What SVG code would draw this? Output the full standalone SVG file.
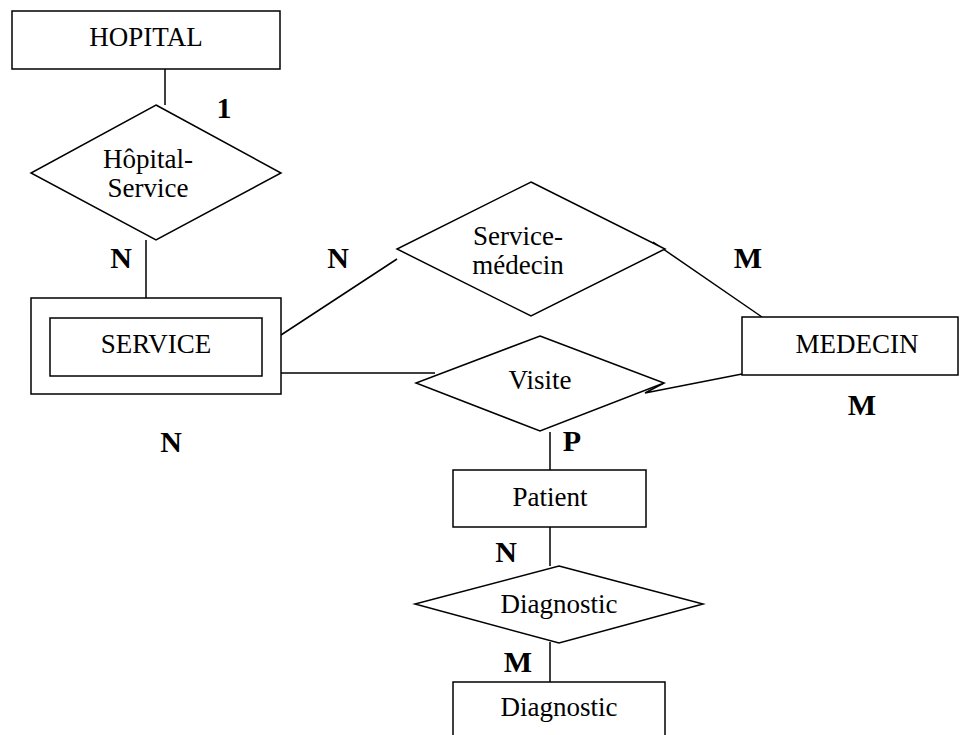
<svg xmlns="http://www.w3.org/2000/svg" width="960" height="735" viewBox="0 0 960 735">
<style>
.s{fill:#fff;stroke:#000;stroke-width:1.5}
.c{fill:none;stroke:#000;stroke-width:1.5}
.t{font-family:"Liberation Serif","Times New Roman",serif;font-size:27px;fill:#000;text-anchor:middle}
.b{font-family:"Liberation Serif","Times New Roman",serif;font-size:30px;font-weight:bold;fill:#000;text-anchor:middle}
</style>
<rect width="960" height="735" fill="#fff"/>
<g id="connectors">
<line class="c" x1="165" y1="69" x2="165" y2="105"/>
<line class="c" x1="146" y1="240" x2="146" y2="298"/>
<line class="c" x1="281" y1="335" x2="397" y2="259"/>
<line class="c" x1="653" y1="242" x2="762" y2="317"/>
<line class="c" x1="281" y1="373" x2="435" y2="373"/>
<polyline class="c" points="664,383 645,393 742,374"/>
<line class="c" x1="550" y1="432" x2="550" y2="470"/>
<line class="c" x1="550" y1="527" x2="550" y2="566"/>
<line class="c" x1="550" y1="642" x2="550" y2="682"/>
</g>
<g id="hopital">
<rect class="s" x="12" y="11" width="268" height="58"/>
<text class="t" x="146" y="46">HOPITAL</text>
</g>
<g id="hopital-service">
<polygon class="s" points="156,105 281,173 156,240 31,173"/>
<text class="t" x="148" y="168">Hôpital-</text>
<text class="t" x="148" y="197">Service</text>
</g>
<g id="service">
<rect class="s" x="31" y="298" width="250" height="96"/>
<rect class="s" x="50" y="318" width="212" height="58"/>
<text class="t" x="156" y="353">SERVICE</text>
</g>
<g id="service-medecin">
<polygon class="s" points="531,182 665,249 531,316 397,249"/>
<text class="t" x="518" y="245">Service-</text>
<text class="t" x="518" y="274">médecin</text>
</g>
<g id="medecin">
<rect class="s" x="742" y="317" width="216" height="58"/>
<text class="t" x="857" y="353">MEDECIN</text>
</g>
<g id="visite">
<polygon class="s" points="540,336 664,383 540,431 416,383"/>
<text class="t" x="540" y="389">Visite</text>
</g>
<g id="patient">
<rect class="s" x="453" y="470" width="193" height="57"/>
<text class="t" x="550" y="506">Patient</text>
</g>
<g id="diagnostic-rel">
<polygon class="s" points="559,566 703,604 559,643 415,604"/>
<text class="t" x="559" y="613">Diagnostic</text>
</g>
<g id="diagnostic">
<rect class="s" x="453" y="682" width="212" height="70"/>
<text class="t" x="559" y="716">Diagnostic</text>
</g>
<g id="labels">
<text class="b" x="224" y="118">1</text>
<text class="b" x="121" y="268">N</text>
<text class="b" x="338" y="268">N</text>
<text class="b" x="748" y="268">M</text>
<text class="b" x="171" y="452">N</text>
<text class="b" x="862" y="415">M</text>
<text class="b" x="572" y="451">P</text>
<text class="b" x="506" y="562">N</text>
<text class="b" x="518" y="672">M</text>
</g>
</svg>
